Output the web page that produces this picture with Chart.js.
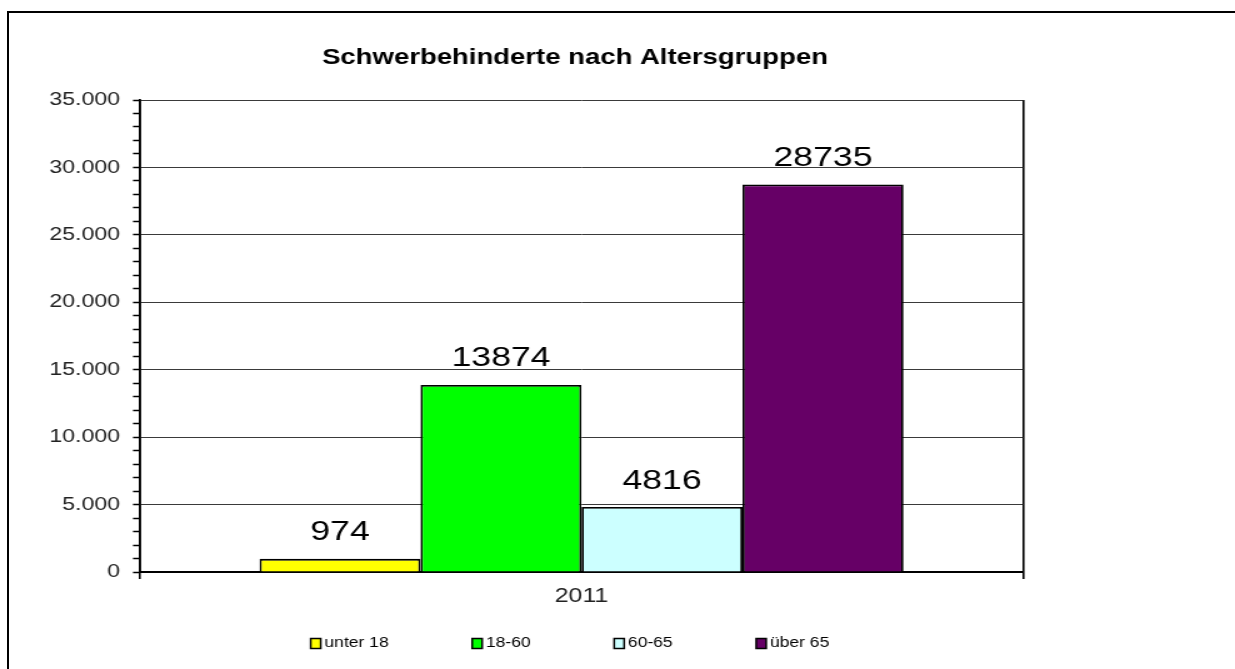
<!DOCTYPE html>
<html><head><meta charset="utf-8">
<script src="https://cdn.jsdelivr.net/npm/chart.js@4.4.1/dist/chart.umd.min.js"></script>
<style>
html,body{margin:0;padding:0;background:#fff;overflow:hidden;width:1235px;height:669px;}
#frame{position:absolute;left:7px;top:11px;width:1400px;height:800px;border-left:2.5px solid #000;border-top:2px solid #000;}
#wrap{position:absolute;left:0;top:0;width:988px;height:669px;transform:scaleX(1.25);transform-origin:0 0;}
</style></head><body>
<div id="frame"></div>
<div id="wrap"><canvas id="c" width="988" height="669"></canvas></div>
<script>
const categories = ['2011'];
const seriesNames = ['unter 18', '18-60', '60-65', 'über 65'];
const valuesUnter18 = [974];
const values18to60 = [13874];
const values60to65 = [4816];
const valuesUeber65 = [28735];
const seriesColors = ['#FFFF00', '#00FF00', '#CCFFFF', '#660066'];
const yTickValues = [0, 5000, 10000, 15000, 20000, 25000, 30000, 35000];
const yTickLabels = ['0', '5.000', '10.000', '15.000', '20.000', '25.000', '30.000', '35.000'];
const chartTitle = 'Schwerbehinderte nach Altersgruppen';

const FONT = "'Liberation Sans', Arial, sans-serif";
Chart.defaults.font.family = FONT;

const seriesValues = [valuesUnter18, values18to60, values60to65, valuesUeber65];

const titleShift = {
  id: 'titleShift',
  afterLayout(chart) {
    if (chart.titleBlock) { chart.titleBlock.left -= 5.2; chart.titleBlock.right -= 5.2; }
  }
};

const valueLabels = {
  id: 'valueLabels',
  afterDatasetsDraw(chart) {
    const ctx = chart.ctx;
    ctx.save();
    ctx.font = '28.5px ' + FONT;
    ctx.fillStyle = '#000';
    ctx.textAlign = 'center';
    ctx.textBaseline = 'alphabetic';
    chart.data.datasets.forEach((ds, i) => {
      const meta = chart.getDatasetMeta(i);
      meta.data.forEach((el, j) => {
        ctx.fillText(String(ds.data[j]), el.x, el.y - 18.5);
      });
    });
    ctx.restore();
  }
};

const legendRow = {
  id: 'legendRow',
  afterDraw(chart) {
    const ctx = chart.ctx;
    ctx.save();
    ctx.font = '14px ' + FONT;
    const boxW = 8, boxH = 10, gapText = 3, gapItem = 66.8;
    const items = chart.data.datasets.map(ds => ({
      label: ds.label, fill: ds.backgroundColor,
      w: boxW + gapText + ctx.measureText(ds.label).width
    }));
    const total = items.reduce((s, it) => s + it.w, 0) + gapItem * (items.length - 1);
    let x = 456 - total / 2;
    const cy = 643.5;
    ctx.textBaseline = 'middle';
    ctx.textAlign = 'left';
    items.forEach(it => {
      ctx.fillStyle = it.fill;
      ctx.fillRect(x, cy - boxH / 2, boxW, boxH);
      ctx.strokeStyle = '#000';
      ctx.lineWidth = 1.5;
      ctx.strokeRect(x, cy - boxH / 2, boxW, boxH);
      ctx.fillStyle = '#000';
      ctx.fillText(it.label, x + boxW + gapText, cy);
      x += it.w + gapItem;
    });
    ctx.restore();
  }
};

new Chart(document.getElementById('c'), {
  type: 'bar',
  data: {
    labels: categories,
    datasets: seriesNames.map((name, i) => ({
      label: name,
      data: seriesValues[i],
      backgroundColor: seriesColors[i],
      borderColor: '#000',
      borderWidth: 1.8,
      categoryPercentage: 0.7293,
      barPercentage: 1.0
    }))
  },
  options: {
    responsive: false,
    animation: false,
    devicePixelRatio: 1,
    layout: { padding: { left: 0, right: 169.6, top: 0, bottom: 47 } },
    plugins: {
      legend: { display: false },
      tooltip: { enabled: false },
      title: {
        display: true, text: chartTitle, color: '#000', fullSize: false,
        font: { size: 22, weight: 'bold' },
        padding: { top: 44.8, bottom: 28.8 }
      }
    },
    scales: {
      x: {
        grid: { display: true, drawOnChartArea: true, offset: true, color: '#000', lineWidth: 1.6, tickLength: 7 },
        border: { display: true, color: '#000', width: 2 },
        ticks: { color: '#222', font: { size: 20 }, padding: 5.5 },
        afterFit: s => { s.height = 50; }
      },
      y: {
        min: 0, max: 35000,
        ticks: {
          stepSize: 1000, autoSkip: false, color: '#222', font: { size: 18.5 }, padding: 10.4,
          callback: v => { const k = yTickValues.indexOf(v); return k >= 0 ? yTickLabels[k] : ''; }
        },
        grid: {
          color: c => (c.tick && yTickValues.indexOf(c.tick.value) >= 0) ? '#3a3a3a' : 'rgba(0,0,0,0)',
          lineWidth: 1, tickLength: 5.6, tickColor: '#000', tickWidth: 1.5, drawTicks: true
        },
        border: { display: true, color: '#000', width: 1.8 },
        afterFit: s => { s.width = 112; }
      }
    }
  },
  plugins: [titleShift, valueLabels, legendRow]
});
</script>
</body></html>
